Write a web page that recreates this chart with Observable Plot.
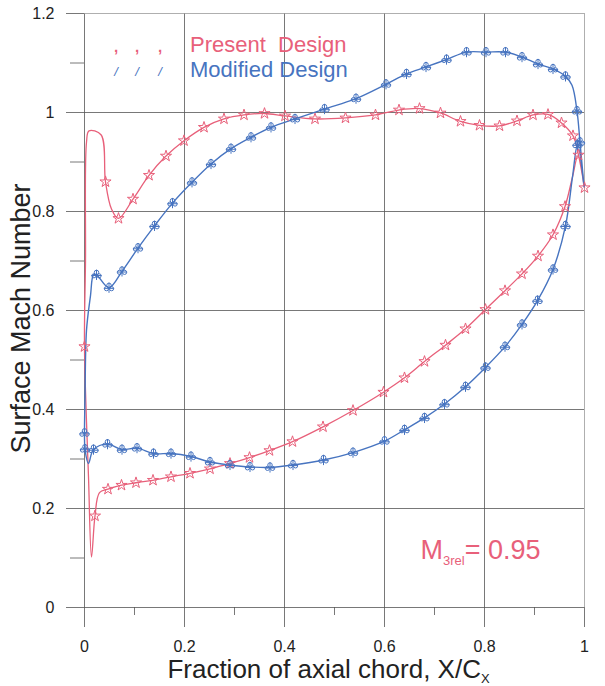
<!DOCTYPE html>
<html><head><meta charset="utf-8">
<script src="https://cdn.jsdelivr.net/npm/d3@7"></script>
<script src="https://cdn.jsdelivr.net/npm/@observablehq/plot@0.6"></script>
<style>body{margin:0;background:#fff} svg{display:block}</style>
</head><body><div id="chart"></div>
<script>
// ---- data ----
const xTicks = [0, 0.2, 0.4, 0.6, 0.8, 1];
const xMinorTicks = [0.1, 0.3, 0.5, 0.7, 0.9];
const yTicks = [0, 0.2, 0.4, 0.6, 0.8, 1, 1.2];
const yMinorTicks = [0.1, 0.3, 0.5, 0.7, 0.9, 1.1];
const seriesNames = ["Present  Design", "Modified Design"];
const seriesColors = ["#e8607a", "#4774c0"];
const xTitle = "Fraction of axial chord, X/C_{X}";
const yTitle = "Surface Mach Number";
const annotationText = "M_{3rel}= 0.95";

// [x/Cx, Mach, marker?] ordered along the blade surface (suction TE->LE, then pressure LE->TE)
const presentDesign = [
  [1.000,0.848,1],[0.988,0.914,1],[0.977,0.953,1],[0.954,0.979,1],[0.927,0.996,1],
  [0.897,0.995,1],[0.865,0.983,1],[0.830,0.973,1],[0.790,0.974,1],[0.752,0.982,1],
  [0.712,0.999,1],[0.670,1.008,1],[0.629,1.005,1],[0.582,0.995,1],[0.522,0.989,1],
  [0.461,0.987,1],[0.401,0.993,1],[0.360,0.998,1],[0.319,0.995,1],[0.279,0.987,1],
  [0.239,0.970,1],[0.199,0.943,1],[0.163,0.912,1],[0.129,0.873,1],[0.097,0.825,1],
  [0.068,0.786,1],[0.054,0.805,0],[0.042,0.860,1],[0.033,0.955,0],[0.009,0.963,0],
  [0.004,0.940,0],[0.002,0.700,0],[0.000,0.527,1],[0.008,0.264,0],[0.014,0.102,0],
  [0.021,0.185,1],[0.030,0.232,0],[0.047,0.239,1],[0.074,0.247,1],[0.103,0.252,1],
  [0.137,0.257,1],[0.173,0.264,1],[0.211,0.271,1],[0.251,0.280,1],[0.291,0.291,1],
  [0.330,0.303,1],[0.370,0.317,1],[0.416,0.335,1],[0.477,0.365,1],[0.537,0.398,1],
  [0.598,0.435,1],[0.640,0.464,1],[0.680,0.497,1],[0.722,0.530,1],[0.762,0.563,1],
  [0.802,0.602,1],[0.841,0.640,1],[0.875,0.674,1],[0.907,0.710,1],[0.937,0.753,1],
  [0.961,0.810,1],[0.976,0.870,0],[0.987,0.913,0],[1.000,0.848,0]
];
const modifiedDesign = [
  [0.999,0.850,0],[0.991,0.940,1],[0.985,1.003,1],[0.975,1.055,0],[0.962,1.073,1],
  [0.937,1.088,1],[0.907,1.098,1],[0.875,1.112,1],[0.842,1.122,1],[0.803,1.122,1],
  [0.764,1.122,1],[0.724,1.107,1],[0.683,1.092,1],[0.644,1.078,1],[0.603,1.057,1],
  [0.543,1.028,1],[0.480,1.007,1],[0.421,0.987,1],[0.373,0.970,1],[0.333,0.950,1],
  [0.293,0.927,1],[0.253,0.896,1],[0.215,0.859,1],[0.176,0.817,1],[0.140,0.771,1],
  [0.107,0.726,1],[0.075,0.679,1],[0.049,0.646,1],[0.024,0.672,1],[0.018,0.672,0],
  [0.012,0.630,0],[0.004,0.560,0],[0.001,0.420,0],[0.000,0.352,1],[0.001,0.320,1],
  [0.008,0.291,0],[0.018,0.319,1],[0.046,0.330,1],[0.075,0.319,1],[0.105,0.322,1],
  [0.138,0.311,1],[0.173,0.311,1],[0.213,0.305,1],[0.251,0.294,1],[0.291,0.288,1],
  [0.331,0.284,1],[0.371,0.283,1],[0.417,0.288,1],[0.478,0.298,1],[0.537,0.313,1],
  [0.600,0.336,1],[0.640,0.359,1],[0.680,0.383,1],[0.720,0.411,1],[0.762,0.446,1],
  [0.802,0.485,1],[0.841,0.527,1],[0.875,0.572,1],[0.906,0.620,1],[0.937,0.683,1],
  [0.962,0.771,1],[0.976,0.870,0],[0.986,0.935,1],[0.999,0.850,0]
];

// ---- custom "club" marker for the modified design ----
const club = {
  draw(ctx, size) {
    const r = Math.sqrt(size / Math.PI);
    const c = (x, y, rr) => { ctx.moveTo(x + rr, y); ctx.arc(x, y, rr, 0, 2 * Math.PI); };
    c(0, -0.75 * r, 0.7 * r);
    c(-0.8 * r, 0.3 * r, 0.65 * r);
    c(0.8 * r, 0.3 * r, 0.65 * r);
    ctx.moveTo(0, -1.6 * r); ctx.lineTo(0, 1.6 * r);
    ctx.moveTo(-1.6 * r, 0.2 * r); ctx.lineTo(1.6 * r, 0.2 * r);
  }
};

const font = "'Liberation Sans', Arial, sans-serif";
const gx = d => d[0], gy = d => d[1];
const [red, blue] = seriesColors;

const chart = Plot.plot({
  width: 605, height: 686,
  marginLeft: 84, marginRight: 21, marginTop: 13, marginBottom: 79,
  x: {domain: [0, 1]},
  y: {domain: [0, 1.2]},
  style: {fontFamily: font, background: "white", color: "#222"},
  marks: [
    Plot.ruleX(xTicks, {stroke: d => d === 1 ? "#9a9a9a" : "#555", strokeWidth: 0.8}),
    Plot.ruleY(yTicks, {stroke: d => d === 1.2 ? "#9a9a9a" : "#555", strokeWidth: 0.8}),
    Plot.axisX(xTicks, {tickSize: 20, tickPadding: 13, fontSize: 16, stroke: "#555", strokeWidth: 0.8, tickFormat: d => String(d), label: null}),
    Plot.axisX(xMinorTicks, {tickSize: 8, stroke: "#555", strokeWidth: 0.8, tickFormat: () => "", label: null}),
    Plot.axisY(yTicks, {tickSize: 18, tickPadding: 12, fontSize: 16, stroke: "#555", strokeWidth: 0.8, tickFormat: d => String(d), label: null}),
    Plot.axisY(yMinorTicks, {tickSize: 14, stroke: "#555", strokeWidth: 0.8, tickFormat: () => "", label: null}),
    Plot.line(presentDesign, {x: gx, y: gy, stroke: red, strokeWidth: 1.3, curve: "catmull-rom"}),
    Plot.line(modifiedDesign, {x: gx, y: gy, stroke: blue, strokeWidth: 1.4, curve: "catmull-rom"}),
    Plot.dot(presentDesign.filter(d => d[2]), {x: gx, y: gy, symbol: "star", r: 3.5, stroke: red, fill: "none", strokeWidth: 1}),
    Plot.dot(modifiedDesign.filter(d => d[2]), {x: gx, y: gy, symbol: club, r: 3.2, stroke: blue, fill: "none", strokeWidth: 1}),
    // legend
    Plot.text([seriesNames[0]], {x: 0.211, y: 1.137, text: d => d, textAnchor: "start", fontSize: 22, fill: red}),
    Plot.text([seriesNames[1]], {x: 0.211, y: 1.086, text: d => d, textAnchor: "start", fontSize: 22, fill: blue}),
    Plot.text([0.063, 0.105, 0.151], {x: d => d, y: 1.132, text: () => ",", fontSize: 15, fontWeight: "bold", fill: red}),
    Plot.text([0.063, 0.105, 0.151], {x: d => d, y: 1.082, text: () => "/", fontSize: 13, fontStyle: "italic", fill: blue}),
    // annotation
    Plot.text([annotationText], {x: 0.672, y: 0.115, text: d => d, textAnchor: "start", fontSize: 27, fill: red}),
    // axis titles
    Plot.text([xTitle], {frameAnchor: "bottom", textAnchor: "middle", lineAnchor: "bottom", dy: 70, dx: -6, text: d => d, fontSize: 26, fill: "#222"}),
    Plot.text([yTitle], {frameAnchor: "left", textAnchor: "middle", lineAnchor: "middle", dx: -63, dy: 8, rotate: -90, text: d => d, fontSize: 27, fill: "#222"})
  ]
});

// turn "A_{sub}B" into real subscript tspans
d3.select(chart).selectAll("text").each(function () {
  const txt = this.textContent;
  if (!txt.includes("_{")) return;
  const fs = parseFloat(getComputedStyle(this).fontSize) || 20;
  const parts = txt.split(/_\{([^}]*)\}/);
  const el = d3.select(this);
  el.text(null);
  let shifted = 0;
  parts.forEach((p, i) => {
    if (!p) return;
    const t = el.append("tspan").text(p);
    if (i % 2 === 1) {
      t.attr("font-size", fs * 0.65).attr("dy", fs * 0.28); shifted = fs * 0.28;
    } else if (shifted) {
      t.attr("dy", -shifted); shifted = 0;
    }
  });
});

document.getElementById("chart").appendChild(chart);
</script>
</body></html>
